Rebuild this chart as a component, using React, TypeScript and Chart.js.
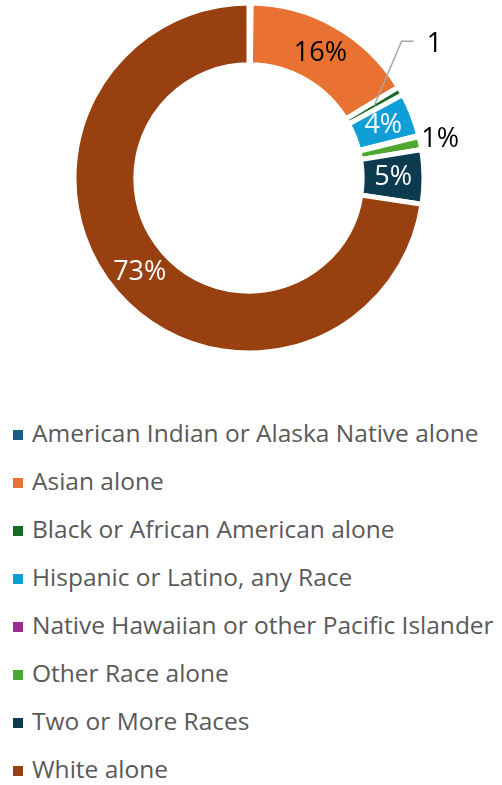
import React, { useEffect, useRef } from "react";
import { Chart, registerables } from "chart.js";

Chart.register(...registerables);

const categories = [
  "American Indian or Alaska Native alone",
  "Asian alone",
  "Black or African American alone",
  "Hispanic or Latino, any Race",
  "Native Hawaiian or other Pacific Islander",
  "Other Race alone",
  "Two or More Races",
  "White alone",
];
const shares = [0.2, 16.1, 0.8, 4.0, 0.1, 1.2, 5.0, 72.6];
const sliceLabels = ["", "16%", "1", "4%", "", "1%", "5%", "73%"];
const labelModes = ["none", "inside", "leader", "inside", "none", "outside", "inside", "inside"];
const colors = [
  "#156082",
  "#E97132",
  "#196B24",
  "#0F9ED5",
  "#A02B93",
  "#4EA72E",
  "#0C3A4E",
  "#984010",
];
const labelColors = ["#000", "#000", "#000", "#FFFFFF", "#000", "#000", "#FFFFFF", "#FFFFFF"];

const FONT = "'Open Sans', 'DejaVu Sans', sans-serif";

const labelPlugin = {
  id: "sliceLabels",
  afterDatasetsDraw(chart: any) {
    const ctx = chart.ctx as CanvasRenderingContext2D;
    const meta = chart.getDatasetMeta(0);
    ctx.save();
    ctx.font = `27px ${FONT}`;
    ctx.textBaseline = "middle";
    meta.data.forEach((arc: any, i: number) => {
      const mode = labelModes[i];
      const text = sliceLabels[i];
      if (mode === "none" || !text) return;
      const p = arc.getProps(["x", "y", "startAngle", "endAngle", "innerRadius", "outerRadius"], true);
      const mid = (p.startAngle + p.endAngle) / 2;
      ctx.fillStyle = labelColors[i];
      if (mode === "inside") {
        const r = (p.innerRadius + p.outerRadius) / 2;
        ctx.textAlign = "center";
        ctx.fillText(text, p.x + r * Math.cos(mid), p.y + r * Math.sin(mid));
      } else if (mode === "outside") {
        const r = p.outerRadius + 20;
        ctx.textAlign = "center";
        ctx.fillText(text, p.x + r * Math.cos(mid), p.y + r * Math.sin(mid));
      } else if (mode === "leader") {
        const r0 = (p.innerRadius + p.outerRadius) / 2;
        const sx = p.x + r0 * Math.cos(mid);
        const sy = p.y + r0 * Math.sin(mid);
        const a2 = mid - (12 * Math.PI) / 180;
        const r2 = p.outerRadius + 30;
        const ex = p.x + r2 * Math.cos(a2);
        const ey = p.y + r2 * Math.sin(a2);
        ctx.strokeStyle = "#A6A6A6";
        ctx.lineWidth = 1.5;
        ctx.beginPath();
        ctx.moveTo(sx, sy);
        ctx.lineTo(ex, ey);
        ctx.lineTo(ex + 12, ey);
        ctx.stroke();
        ctx.textAlign = "left";
        ctx.fillText(text, ex + 25, ey + 3);
      }
    });
    ctx.restore();
  },
};

export default function App() {
  const ref = useRef<HTMLCanvasElement>(null);
  useEffect(() => {
    document.body.style.margin = "0";
    const chart = new Chart(ref.current as HTMLCanvasElement, {
      type: "doughnut",
      data: {
        labels: categories,
        datasets: [
          {
            data: shares,
            backgroundColor: colors,
            borderColor: "#FFFFFF",
            borderWidth: 5,
            borderJoinStyle: "miter",
            hoverOffset: 0,
          } as any,
        ],
      },
      options: {
        responsive: false,
        animation: false,
        radius: 175,
        cutout: 113.5,
        layout: { padding: { left: 0, right: 4, top: 0, bottom: 0 } },
        plugins: {
          legend: { display: false },
          tooltip: { enabled: false },
        },
      } as any,
      plugins: [labelPlugin],
    });
    return () => chart.destroy();
  }, []);

  return (
    <div
      style={{
        position: "relative",
        width: 502,
        height: 785,
        background: "#FFFFFF",
        overflow: "hidden",
        fontFamily: FONT,
      }}
    >
      <canvas ref={ref} width={502} height={356} style={{ position: "absolute", left: 0, top: 0 }} />
      <div style={{ position: "absolute", left: 0, top: 409, width: 502 }}>
        {categories.map((c, i) => (
          <div
            key={c}
            style={{
              position: "relative",
              height: 48,
              lineHeight: "48px",
              fontSize: 24.5,
              color: "#595959",
              whiteSpace: "nowrap",
            }}
          >
            <span
              style={{
                position: "absolute",
                left: 13,
                top: 21,
                width: 10,
                height: 10,
                background: colors[i],
              }}
            />
            <span style={{ position: "absolute", left: 32, top: 0 }}>{c}</span>
          </div>
        ))}
      </div>
    </div>
  );
}
